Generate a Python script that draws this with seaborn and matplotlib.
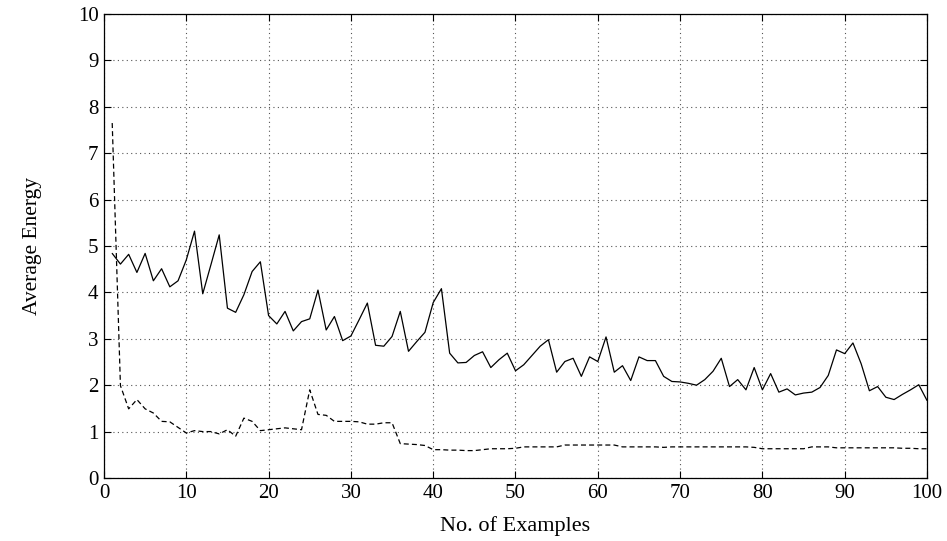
import numpy as np
import pandas as pd
import matplotlib
matplotlib.use("Agg")
import matplotlib.pyplot as plt
import seaborn as sns

examples = list(range(1, 101))
solid_energy = [
    4.84, 4.61, 4.82, 4.43, 4.84, 4.25, 4.51, 4.12, 4.25, 4.70,
    5.32, 3.97, 4.60, 5.24, 3.66, 3.57, 3.95, 4.45, 4.66, 3.50,
    3.32, 3.59, 3.17, 3.37, 3.43, 4.05, 3.19, 3.48, 2.96, 3.06,
    3.41, 3.77, 2.86, 2.84, 3.05, 3.59, 2.73, 2.94, 3.14, 3.78,
    4.08, 2.69, 2.48, 2.49, 2.64, 2.72, 2.38, 2.55, 2.69, 2.31,
    2.44, 2.64, 2.84, 2.98, 2.28, 2.51, 2.58, 2.19, 2.61, 2.51,
    3.04, 2.28, 2.42, 2.10, 2.61, 2.53, 2.53, 2.19, 2.08, 2.07,
    2.04, 2.00, 2.12, 2.30, 2.58, 1.97, 2.12, 1.90, 2.38, 1.90,
    2.25, 1.85, 1.92, 1.79, 1.83, 1.85, 1.95, 2.21, 2.76, 2.68,
    2.91, 2.46, 1.88, 1.97, 1.74, 1.69, 1.80, 1.90, 2.01, 1.67,
]
dashed_energy = [
    7.65, 1.99, 1.49, 1.69, 1.49, 1.40, 1.22, 1.21, 1.09, 0.97,
    1.02, 1.00, 1.00, 0.95, 1.04, 0.90, 1.29, 1.22, 1.02, 1.04,
    1.06, 1.08, 1.06, 1.04, 1.90, 1.37, 1.35, 1.22, 1.22, 1.22,
    1.21, 1.16, 1.16, 1.19, 1.19, 0.74, 0.73, 0.72, 0.70, 0.61,
    0.61, 0.60, 0.60, 0.59, 0.59, 0.61, 0.63, 0.63, 0.63, 0.64,
    0.67, 0.67, 0.67, 0.67, 0.67, 0.71, 0.71, 0.71, 0.71, 0.71,
    0.71, 0.71, 0.67, 0.67, 0.67, 0.67, 0.67, 0.66, 0.67, 0.67,
    0.67, 0.67, 0.67, 0.67, 0.67, 0.67, 0.67, 0.67, 0.66, 0.63,
    0.63, 0.63, 0.63, 0.63, 0.63, 0.67, 0.67, 0.67, 0.65, 0.65,
    0.65, 0.65, 0.65, 0.65, 0.65, 0.65, 0.64, 0.64, 0.63, 0.63,
]
x_ticks = [0, 10, 20, 30, 40, 50, 60, 70, 80, 90, 100]
y_ticks = [0, 1, 2, 3, 4, 5, 6, 7, 8, 9, 10]

sns.set_style("ticks")
plt.rcParams['font.family'] = ['Liberation Serif', 'DejaVu Serif']
plt.rcParams['xtick.direction'] = 'in'
plt.rcParams['ytick.direction'] = 'in'
plt.rcParams['text.color'] = 'black'
plt.rcParams['axes.labelcolor'] = 'black'

df = pd.DataFrame({
    "x": examples * 2,
    "energy": solid_energy + dashed_energy,
    "series": ["solid"] * 100 + ["dashed"] * 100,
})

fig = plt.figure(figsize=(9.47, 5.41), dpi=100)
ax = fig.add_axes([0.1098, 0.1165, 0.8691, 0.8576])

sns.lineplot(data=df, x="x", y="energy", style="series",
             dashes={"solid": "", "dashed": (4, 2.5)},
             color="black", linewidth=0.9, legend=False, ax=ax)

ax.set_xlim(0, 100)
ax.set_ylim(0, 10)
ax.set_xticks(x_ticks)
ax.set_yticks(y_ticks)
ax.grid(True, linestyle=(0, (1, 3)), color="#555555", linewidth=0.8)
for s in ax.spines.values():
    s.set_visible(True)
    s.set_linewidth(0.9)
    s.set_color("black")
ax.tick_params(axis="both", which="both", direction="in", length=5, width=0.8,
               top=True, right=True, labelsize=15, colors="black", pad=4)
ax.set_xlabel("No. of Examples", fontsize=16, labelpad=10, color="black")
ax.set_ylabel("Average Energy", fontsize=15.5, labelpad=26, color="black")

fig.savefig("out.png", dpi=100)
